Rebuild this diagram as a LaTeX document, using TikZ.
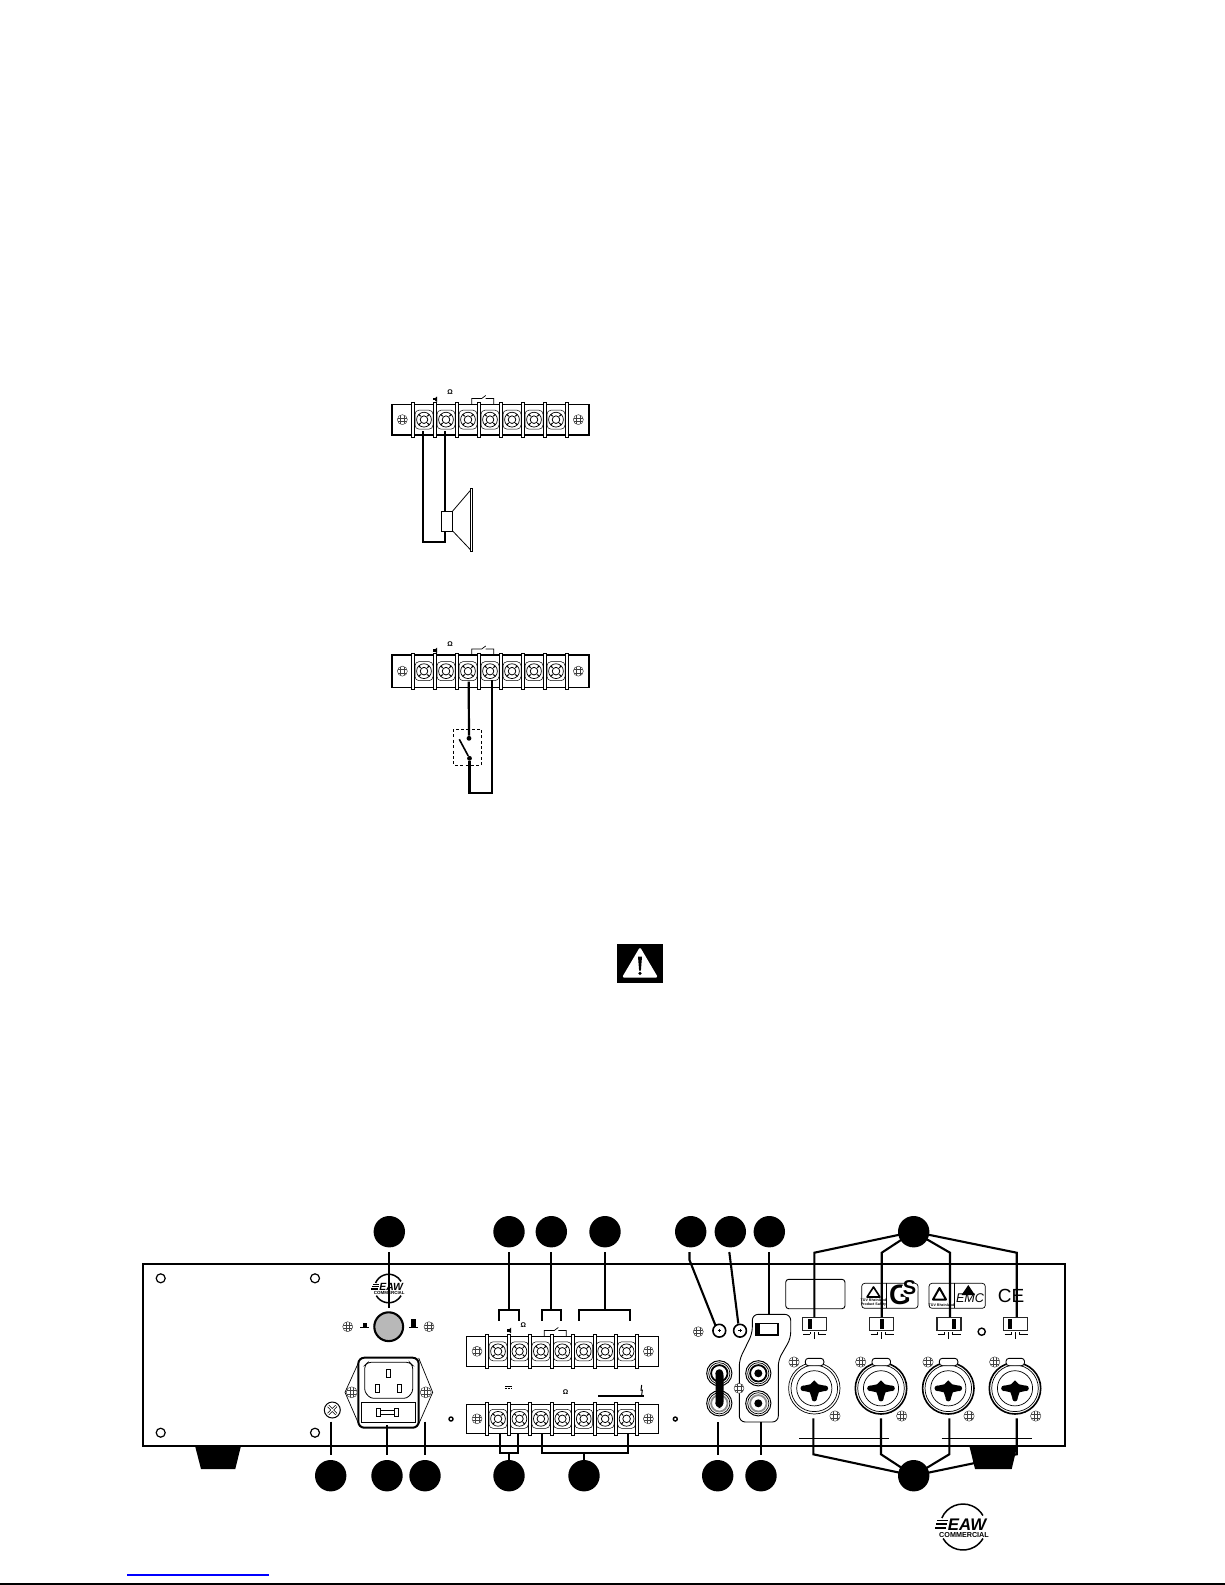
\documentclass[tikz,border=0pt]{standalone}
\usepackage{fontspec}
\setmainfont{Liberation Sans}
\tikzset{
  callout/.style={circle,fill=black,draw=none,minimum size=15.7pt,inner sep=0pt,outer sep=2.5pt},
  leader/.style={line width=1.05pt,line join=miter},
  wire/.style={line width=1.1pt},
  thinl/.style={line width=0.35pt},
  medl/.style={line width=0.6pt},
  tinytext/.style={inner sep=0pt,font=\bfseries\fontsize{3.4pt}{3.8pt}\selectfont},
  swbox/.style={draw=black!85,line width=0.8pt,fill=white,minimum width=12pt,minimum height=6.6pt,inner sep=0pt,outer sep=0pt},
}
% small screw with a hatched head
\newcommand\gridscrew[3][5]{%
  \begin{scope}[shift={(#2,#3)}]
    \fill[white] (0,0) circle[radius=#1];
    \draw[line width=0.22pt,black!80] (0,0) circle[radius=#1];
    \begin{scope}
      \clip (0,0) circle[radius=#1];
      \foreach \d in {-1.7,1.7} {
        \draw[line width=0.2pt,black!75] (\d,-6) -- (\d,6);
        \draw[line width=0.2pt,black!75] (-6,\d) -- (6,\d);
      }
    \end{scope}
  \end{scope}}
% terminal screw with its square well
\newcommand\tscrew[3][7.4]{%
  \begin{scope}[shift={(#2,#3)}]
    \draw[line width=0.25pt,rounded corners=2pt] (-9,-9.5) rectangle (9,9.5);
    \draw[line width=0.35pt] (0,0) circle[radius=#1];
    \draw[line width=0.5pt] (-3.4,-3.4) -- (-5.2,-5.2) (3.4,-3.4) -- (5.2,-5.2) (-3.4,3.4) -- (-5.2,5.2) (3.4,3.4) -- (5.2,5.2);
    \draw[line width=0.4pt] (0,0) circle[radius=3.8];
  \end{scope}}
% terminal strip: left right top bottom firstsep pitch linewidth
\newcommand\tstrip[7]{%
  \draw[line width=#7,fill=white] (#1,#3) rectangle (#2,#4);
  \pgfmathsetmacro\midy{(#3+#4)/2}
  \foreach \i in {0,...,6} {
    \pgfmathsetmacro\tx{#5+(\i+0.5)*#6}
    \tscrew{\tx}{\midy}
  }
  \foreach \i in {0,...,7} {
    \pgfmathsetmacro\sx{#5+\i*#6}
    \draw[line width=0.35pt,fill=white] (\sx-1.5,#3-2) rectangle (\sx+1.5,#4+2);
  }
  \pgfmathsetmacro\la{(#1+#5)/2}
  \pgfmathsetmacro\lb{#2-(#5-#1)/2}
  \gridscrew{\la}{\midy}
  \gridscrew{\lb}{\midy}}
% relay mark
\newcommand\relaymark[2]{%
  \draw[line width=0.35pt] (#1,#2) -- ++(0,-5.5) -- ++(10,0) -- ++(4,-3) ++(0,3) -- ++(8,0) -- ++(0,5.5);}
% speaker mark
\newcommand\spkmark[2]{%
  \fill (#1-1.6,#2-1.1) rectangle (#1,#2+1.1);
  \fill (#1,#2-1.1) -- (#1+2,#2-2.8) -- (#1+2,#2+2.8) -- (#1,#2+1.1) -- cycle;}
% maker's mark
\newcommand\eawlogo[3]{%
  \begin{scope}[shift={(#1,#2)},scale=#3,transform shape]
    \draw[line width=0.75pt] ([shift={(203:23)}]0,0) arc[start angle=203,end angle=330,radius=23];
    \draw[line width=0.75pt] ([shift={(150:23)}]0,0) arc[start angle=150,end angle=30,radius=23];
    \fill (-26,-7.5) rectangle (-15,-5.6);
    \fill (-27,-3.8) rectangle (-16,-1.9);
    \fill (-28,-0.1) rectangle (-17,1.8);
    \node[inner sep=0pt,text height=6pt,text depth=0pt,anchor=south west,font=\bfseries\itshape\fontsize{8.4pt}{9pt}\selectfont] at (-15.5,3.5) {EAW};
    \node[inner sep=0pt,text height=2.6pt,text depth=0pt,anchor=north,font=\bfseries\fontsize{3.6pt}{4pt}\selectfont] at (1,4.5) {COMMERCIAL};
  \end{scope}}
% combined XLR and jack socket
\newcommand\xlrsock[3]{%
  \begin{scope}[shift={(#1,#2)}]
    \draw[line width=#3,fill=white] (0,0) circle[radius=25.7];
    \draw[line width=0.35pt] (0,0) circle[radius=23.3];
    \draw[line width=0.35pt] (0,0) circle[radius=17.6];
    \fill (-11,-2.5) -- (-4,-4) -- (0,-8) -- (4,-4) -- (11,-2.5) -- (11,2.5) -- (4.5,4) -- (2.2,11) -- (-2.2,11) -- (-4.5,4) -- (-11,2.5) -- cycle;
    \fill (-11,0) circle[radius=2.8] (11,0) circle[radius=2.8] (0,10.5) circle[radius=2.6];
    \draw[line width=0.45pt,fill=white,rounded corners=1.5pt] (-9,-30) rectangle (9.5,-22.6);
  \end{scope}
  \gridscrew[5.2]{#1-20.3}{#2-26.3}
  \gridscrew[5.2]{#1+20.7}{#2+27.7}}
\newcommand\rcasock[3]{%
  \begin{scope}[shift={(#1,#2)}]
    \draw[line width=0.5pt,fill=white] (0,0) circle[radius=12.6];
    \draw[line width=0.9pt,draw=#3] (0,0) circle[radius=8.2];
    \draw[line width=0.35pt] (0,0) circle[radius=10.6];
    \fill (0,0) circle[radius=4];
  \end{scope}}
% slide switch: name, centre x, black tab left edge
\newcommand\slideswitch[3]{%
  \node[swbox] (#1) at (#2,1324) {};
  \fill (#3,1319) rectangle (#3+4,1329.4);
  \draw[line width=0.35pt] (#2-11,1334) -- (#2-4,1334) (#2-4,1334) -- (#2-4,1332) (#2+4,1332) -- (#2+4,1334) -- (#2+12,1334) (#2,1332) -- (#2,1339.3);}
\begin{document}
\begin{tikzpicture}[x=0.5pt,y=-0.5pt]
\useasboundingbox (0,0) rectangle (1225,1585);

%%% speaker wiring example
\tstrip{391.7}{589}{404.3}{435}{413}{22}{0.8pt}
\node[tinytext] (a1) at (450,392.5) {Ω};
\spkmark{435}{399.3}
\relaymark{471.7}{404}
\coordinate (tp1) at (423,431);
\coordinate (tp2) at (444.7,431);
\node[draw,line width=0.45pt,fill=white,minimum width=5.5pt,minimum height=10pt,inner sep=0pt,outer sep=0pt] (coil) at (447.2,521) {};
\coordinate (spkt) at (444.7,511);
\coordinate (spkb) at (444.7,531);
\coordinate (spkc) at (444.7,541.7);
\coordinate (spkd) at (423,541.7);
\draw[wire] (tp2) -- (spkt);
\draw[wire,line join=miter] (tp1) -- (spkd) -- (spkc) -- (spkb);
\draw[line width=0.4pt] (452.7,511) -- (470.7,490) (452.7,531) -- (470.7,550);
\draw[line width=0.35pt,fill=white] (470.7,488.7) rectangle (472.7,551.7);

%%% switch wiring example
\tstrip{391.7}{589}{655}{687.3}{413}{22}{0.8pt}
\node[tinytext] (b1) at (450,644.5) {Ω};
\spkmark{435}{650.5}
\relaymark{471.7}{654.5}
\draw[line width=0.4pt,dash pattern=on 1.5pt off 1.2pt] (453.3,729) rectangle (481.7,765.3);
\node[circle,fill=black,minimum size=2.4pt,inner sep=0pt] (sa) at (469,738.3) {};
\node[circle,fill=black,minimum size=2.4pt,inner sep=0pt] (sb) at (469.5,758.3) {};
\coordinate (tq1) at (468.7,681.5);
\coordinate (tq2) at (491.7,680);
\coordinate (q3) at (469.5,793.3);
\coordinate (q4) at (491.7,793.3);
\coordinate (lever) at (459.3,739.3);
\draw[wire] (tq1) -- (sa);
\draw[wire,line join=miter] (sb) -- (q3) -- (q4) -- (tq2);
\draw[line width=0.8pt] (lever) -- (sb);

%%% warning sign
\fill (616.7,944) rectangle (663,982.6);
\fill[white,rounded corners=0.8pt] (640,947) -- (658,977.5) -- (622,977.5) -- cycle;
\fill (638,956.5) -- (642,956.5) -- (640.9,970.5) -- (639.1,970.5) -- cycle;
\fill (640,973.4) circle[radius=1.8];

%%% feet and rear panel
\fill (195,1445.7) -- (241,1445.7) -- (235.3,1469) -- (201,1469) -- cycle;
\draw[line width=1.05pt] (143.3,1264.3) rectangle (1065,1445.7);
\foreach \hx/\hy in {160.7/1278.3,315/1278.3,160.7/1432.7,315/1432.7}
  \draw[line width=0.6pt,fill=white] (\hx,\hy) circle[radius=4.5];
\fill (969.3,1445.7) -- (1017.3,1445.7) -- (1011.7,1469) -- (975,1469) -- cycle;

%%% power switch and logo
\eawlogo{388.7}{1288.5}{0.62}
\node[circle,draw,line width=1.05pt,fill=black!28,minimum size=14.4pt,inner sep=0pt,outer sep=0pt] (power) at (388.7,1326.7) {};
\gridscrew{347.7}{1326.7}
\gridscrew{429}{1326.7}
\fill (362.5,1323) rectangle (367,1326.5);
\fill (359.5,1326.5) rectangle (369,1328);
\fill (411,1319) rectangle (415.5,1326.5);
\fill (408.5,1326.5) rectangle (418,1328);

%%% mains inlet
\draw[thinl,fill=white] (358.3,1363) -- (345,1392.3) -- (358.3,1423) (418.7,1358) -- (432.7,1392.3) -- (418.7,1424);
\draw[line width=1pt,fill=white,rounded corners=3pt] (358.3,1357.7) rectangle (418.7,1427.7);
\draw[line width=0.4pt,rounded corners=1.5pt] (368,1362.3) -- (409.5,1362.3) -- (412.7,1365.5) -- (412.7,1392) -- (407,1398.3) -- (370.5,1398.3) -- (364.7,1392) -- (364.7,1365.5) -- cycle;
\foreach \px/\py in {388.3/1373.3,377.7/1388,399.7/1388}
  \draw[line width=0.45pt] (\px-2.2,\py-4) rectangle (\px+2.2,\py+4);
\draw[line width=0.35pt] (361.7,1402.3) rectangle (415,1422.3);
\draw[line width=0.5pt] (376,1408.3) rectangle (380.7,1416) (394,1408.3) rectangle (398.7,1416);
\draw[line width=0.4pt] (380.7,1410.3) rectangle (394,1414);
\gridscrew[5.5]{351.7}{1392.3}
\gridscrew[5.5]{425.7}{1392.3}
\draw[line width=0.5pt] (332.3,1410) circle[radius=8];
\draw[line width=1.3pt] (328.3,1406) -- (336.3,1414) (336.3,1406) -- (328.3,1414);
\draw[line width=0.6pt,white] (328.3,1406) -- (336.3,1414) (336.3,1406) -- (328.3,1414);
\foreach \hx in {451,675.3}
  \draw[line width=0.7pt,fill=white] (\hx,1419) circle[radius=2];

%%% terminal strips
\tstrip{466.7}{658.7}{1336.3}{1366.3}{487.3}{21.43}{0.45pt}
\tstrip{466.7}{658.7}{1404.3}{1433.3}{487.3}{21.43}{0.45pt}
\spkmark{509}{1330.5}
\node[tinytext] (o1) at (523.3,1325) {Ω};
\relaymark{544.3}{1336}
\node[tinytext] (o2) at (565.7,1392.3) {Ω};
\draw[line width=0.3pt] (505,1386.7) -- (512,1386.7);
\draw[line width=0.3pt,dash pattern=on 1pt off 0.5pt] (505,1388.5) -- (512,1388.5);
\draw[line width=1pt] (598.3,1395.7) -- (644.3,1395.7);
\draw[line width=0.5pt] (641.7,1385) -- (641,1390) -- (642.3,1390) -- (641.7,1395);

%%% small sockets
\gridscrew{698.3}{1331.7}
\node[circle,draw,line width=0.8pt,fill=white,minimum size=6.4pt,inner sep=0pt,outer sep=0pt] (g1) at (719.3,1330.7) {};
\node[circle,draw,line width=0.8pt,fill=white,minimum size=6.4pt,inner sep=0pt,outer sep=0pt] (g2) at (740,1330.7) {};
\draw[line width=0.35pt] (717.7,1330.7) -- (720.9,1330.7) (719.3,1329) -- (719.3,1332.4);
\draw[line width=0.35pt] (738.4,1330.7) -- (741.6,1330.7) (740,1329) -- (740,1332.4);

%%% RCA group
\draw[line width=0.45pt,rounded corners=3pt] (752.3,1314.3) -- (790.7,1314.3) -- (790.7,1338.3) -- (778.3,1360) -- (778.3,1422) -- (739.3,1422) -- (739.3,1360) -- (752.3,1333.3) -- cycle;
\node[draw,line width=0.9pt,fill=white,minimum width=11pt,minimum height=5.8pt,inner sep=0pt,outer sep=0pt] (sel) at (767,1329.2) {};
\fill (756,1324) rectangle (759.8,1334.4);
\rcasock{758.3}{1373.3}{black}
\rcasock{758.3}{1403.3}{black!45}
\gridscrew{739}{1388.3}
\rcasock{719.3}{1373.3}{black}
\rcasock{719.3}{1403.3}{black!45}
\fill[rounded corners=3pt] (715.5,1369.5) rectangle (723.5,1408);

%%% approval marks
\draw[line width=0.45pt,rounded corners=1.5pt] (785.7,1279.3) rectangle (845,1308.7);
\draw[line width=0.35pt,rounded corners=1.5pt] (861.7,1283.3) rectangle (918,1308.3);
\draw[line width=0.35pt] (886.7,1283.3) -- (886.7,1308.3);
\draw[line width=0.8pt,line join=round] (873.5,1287) -- (880,1297) -- (867,1297) -- cycle;
\node[inner sep=0pt,font=\bfseries\fontsize{1.8pt}{2.1pt}\selectfont,align=center] (tv1) at (873.5,1302.5) {TÜV Rheinland\\Product Safety};
\node[inner sep=0pt,text height=5.6pt,text depth=0pt,font=\bfseries\fontsize{14pt}{15pt}\selectfont] (gl) at (900,1298.5) {G};
\fill[white] (909.5,1289.5) circle[radius=8];
\node[inner sep=0pt,text height=3.6pt,text depth=0pt,font=\bfseries\fontsize{10pt}{11pt}\selectfont] (sl) at (909.5,1290.5) {S};
\draw[line width=0.35pt,rounded corners=1.5pt] (929,1283.3) rectangle (985.3,1308.3);
\draw[line width=0.35pt] (954.3,1283.3) -- (954.3,1308.3);
\draw[line width=1pt,line join=round] (939.5,1288) -- (946,1299.5) -- (933,1299.5) -- cycle;
\node[inner sep=0pt,font=\bfseries\fontsize{1.8pt}{2.1pt}\selectfont] (tv2) at (941.5,1304.5) {TÜV Rheinland};
\fill (968.3,1285) -- (975,1295) -- (961.5,1295) -- cycle;
\node[inner sep=0pt,font=\itshape\fontsize{6.3pt}{7pt}\selectfont] (emc) at (970,1298.5) {EMC};
\node[inner sep=0pt,font=\fontsize{9.5pt}{10pt}\selectfont] (ce) at (1011,1296) {CE};
\draw[line width=0.7pt,fill=white] (981.7,1331.7) circle[radius=3.6];

%%% slide switches
\slideswitch{sw1}{814.3}{808.3}
\slideswitch{sw2}{881.5}{880}
\slideswitch{sw3}{948.7}{951.7}
\slideswitch{sw4}{1015.5}{1008.3}

%%% combo sockets
\xlrsock{814.3}{1388.3}{0.35pt}
\xlrsock{881}{1388.3}{0.8pt}
\xlrsock{948.3}{1388.3}{0.8pt}
\xlrsock{1015}{1388.3}{0.8pt}
\draw[line width=0.45pt] (799,1438.3) -- (889,1438.3) (941.7,1438.3) -- (1032.3,1438.3);

%%% callouts
\node[callout] (t1) at (389.3,1231.7) {};
\node[callout] (t2) at (509,1231.7) {};
\node[callout] (t3) at (551.3,1231.7) {};
\node[callout] (t4) at (605,1231.7) {};
\node[callout] (t5) at (690.7,1231.7) {};
\node[callout] (t6) at (730.3,1231.7) {};
\node[callout] (t7) at (769.3,1231.7) {};
\node[callout] (t8) at (913.7,1231.7) {};
\node[callout] (b1c) at (330.7,1475.7) {};
\node[callout] (b2c) at (387,1475.7) {};
\node[callout] (b3c) at (425,1475.7) {};
\node[callout] (b4c) at (509,1475.7) {};
\node[callout] (b5c) at (584,1475.7) {};
\node[callout] (b6c) at (717.7,1475.7) {};
\node[callout] (b7c) at (761,1475.7) {};
\node[callout] (b8c) at (913.7,1475.7) {};

%%% leaders, upper row
\coordinate (pw) at (389.3,1308);
\draw[leader] (t1) -- (pw);
\coordinate (br1a) at (499,1320.7); \coordinate (br1b) at (499,1310); \coordinate (br1c) at (519.3,1310); \coordinate (br1d) at (519.3,1320.7); \coordinate (br1m) at (509,1310);
\draw[leader] (t2) -- (br1m);
\draw[leader] (br1a) -- (br1b) -- (br1c) -- (br1d);
\coordinate (br2a) at (542,1320.7); \coordinate (br2b) at (542,1310); \coordinate (br2c) at (561,1310); \coordinate (br2d) at (561,1320.7); \coordinate (br2m) at (551.3,1310);
\draw[leader] (t3) -- (br2m);
\draw[leader] (br2a) -- (br2b) -- (br2c) -- (br2d);
\coordinate (br3a) at (579,1320.7); \coordinate (br3b) at (579,1310); \coordinate (br3c) at (630.3,1310); \coordinate (br3d) at (630.3,1320.7); \coordinate (br3m) at (605,1310);
\draw[leader] (t4) -- (br3m);
\draw[leader] (br3a) -- (br3b) -- (br3c) -- (br3d);
\coordinate (k5) at (689.5,1260);
\coordinate (k5s) at (689.5,1252);
\coordinate (g1e) at (715.5,1325.5);
\draw[leader] (k5s) -- (k5) -- (g1e);
\coordinate (k6s) at (729.3,1252);
\coordinate (g2e) at (738.3,1323.5);
\draw[leader] (k6s) -- (g2e);
\coordinate (rt) at (769.3,1314.3);
\draw[leader] (t7) -- (rt);
\coordinate (k81) at (814.3,1252.7);
\coordinate (k82) at (881.7,1252.7);
\coordinate (k83) at (950,1252.7);
\coordinate (k84) at (1016.7,1252.7);
\draw[leader] (t8.center) -- (k81) -- (814.3,1317);
\draw[leader] (t8.center) -- (k82) -- (881.7,1317);
\draw[leader] (t8.center) -- (k83) -- (950,1317);
\draw[leader] (t8.center) -- (k84) -- (1016.7,1317);

%%% leaders, lower row
\coordinate (gnd) at (330.7,1421.7);
\draw[leader] (gnd) -- (b1c);
\coordinate (fus) at (387,1425);
\draw[leader] (fus) -- (b2c);
\coordinate (flg) at (425,1421.7);
\draw[leader] (flg) -- (b3c);
\coordinate (lb1a) at (500,1434); \coordinate (lb1b) at (500,1452.7); \coordinate (lb1c) at (518,1452.7); \coordinate (lb1d) at (518,1434); \coordinate (lb1m) at (509,1452.7);
\draw[leader] (lb1a) -- (lb1b) -- (lb1c) -- (lb1d);
\draw[leader] (lb1m) -- (b4c.center);
\coordinate (lb2a) at (542,1434); \coordinate (lb2b) at (542,1452.7); \coordinate (lb2c) at (628,1452.7); \coordinate (lb2d) at (628,1434); \coordinate (lb2m) at (584,1452.7);
\draw[leader] (lb2a) -- (lb2b) -- (lb2c) -- (lb2d);
\draw[leader] (lb2m) -- (b5c.center);
\coordinate (jk) at (717.7,1422.3);
\draw[leader] (jk) -- (b6c);
\coordinate (rc) at (761,1422.3);
\draw[leader] (rc) -- (b7c);
\coordinate (x1) at (813.3,1418.3); \coordinate (x1k) at (813.3,1454.3);
\coordinate (x2) at (881,1418.3); \coordinate (x2k) at (881,1454.3);
\coordinate (x3) at (949.3,1418.3); \coordinate (x3k) at (949.3,1454.3);
\coordinate (x4) at (1016.7,1418.3); \coordinate (x4k) at (1016.7,1454.3);
\draw[leader] (x1) -- (x1k) -- (b8c.center);
\draw[leader] (x2) -- (x2k) -- (b8c.center);
\draw[leader] (x3) -- (x3k) -- (b8c.center);
\draw[leader] (x4) -- (x4k) -- (b8c.center);

%%% foot logo and page rules
\eawlogo{963}{1527}{1}
\draw[blue,line width=0.6pt] (127,1575) -- (268.7,1575);
\fill (0,1583) rectangle (1225,1585);
\end{tikzpicture}
\end{document}
